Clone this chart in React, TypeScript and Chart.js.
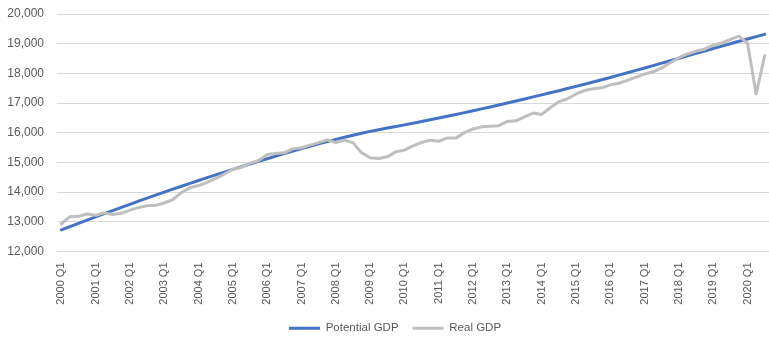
import { useEffect, useRef } from "react";
import { Chart, registerables } from "chart.js";

Chart.register(...registerables);

// Quarterly periods, 2000 Q1 through 2020 Q3
const years = [
  2000, 2001, 2002, 2003, 2004, 2005, 2006, 2007, 2008, 2009, 2010,
  2011, 2012, 2013, 2014, 2015, 2016, 2017, 2018, 2019, 2020,
];
const quarterNames = ["Q1", "Q2", "Q3", "Q4"];
const quartersInLastYear = 3;

const categories: string[] = years.flatMap((y, i) =>
  quarterNames
    .slice(0, i === years.length - 1 ? quartersInLastYear : 4)
    .map((q) => `${y} ${q}`)
);

// Potential GDP, billions of chained dollars
const potentialGdp = [
  12730, 12840, 12950, 13058,
  13166, 13273, 13379, 13485,
  13590, 13694, 13797, 13899,
  14000, 14100, 14199, 14297,
  14393, 14488, 14582, 14675,
  14767, 14858, 14948, 15037,
  15125, 15212, 15298, 15382,
  15464, 15545, 15624, 15701,
  15776, 15848, 15917, 15983,
  16046, 16104, 16158, 16210,
  16265, 16320, 16377, 16435,
  16494, 16554, 16615, 16677,
  16740, 16804, 16869, 16935,
  17002, 17070, 17139, 17209,
  17275, 17345, 17416, 17488,
  17561, 17635, 17710, 17786,
  17863, 17941, 18020, 18100,
  18181, 18262, 18344, 18426,
  18508, 18590, 18672, 18754,
  18836, 18918, 19000, 19080,
  19160, 19238, 19315,
];

// Real GDP, billions of chained dollars
const realGdp = [
  12935, 13170, 13184, 13262,
  13219, 13301, 13249, 13285,
  13395, 13478, 13539, 13559,
  13634, 13751, 13985, 14146,
  14221, 14330, 14465, 14609,
  14772, 14839, 14972, 15066,
  15267, 15302, 15326, 15457,
  15494, 15582, 15666, 15762,
  15672, 15753, 15667, 15329,
  15156, 15134, 15189, 15356,
  15415, 15558, 15672, 15751,
  15713, 15825, 15821, 16004,
  16129, 16199, 16221, 16239,
  16383, 16403, 16532, 16664,
  16617, 16842, 17047, 17143,
  17306, 17423, 17486, 17514,
  17613, 17668, 17765, 17876,
  17977, 18054, 18186, 18359,
  18531, 18654, 18752, 18814,
  18950, 19021, 19142, 19254,
  19011, 17303, 18597,
];

const yMin = 12000;
const yMax = 20000;
const yStep = 1000;

const seriesNames = ["Potential GDP", "Real GDP"];
const seriesColors = ["#4472C4", "#BFBFBF"];

const textColor = "#595959";
const gridColor = "#D9D9D9";
const family = "'Liberation Sans', Arial, sans-serif";

// Nudges the legend row a few pixels to the right after layout
const legendNudge = {
  id: "legendNudge",
  afterLayout(chart: Chart) {
    const legend = chart.legend;
    if (!legend) return;
    legend.left += 7;
    legend.right += 7;
  },
};

export default function App() {
  const canvasRef = useRef<HTMLCanvasElement | null>(null);

  useEffect(() => {
    const canvas = canvasRef.current;
    if (!canvas) return;

    const chart = new Chart(canvas, {
      type: "line",
      data: {
        labels: categories,
        datasets: [
          {
            label: seriesNames[0],
            data: potentialGdp,
            borderColor: seriesColors[0],
            backgroundColor: seriesColors[0],
            borderWidth: 3,
            pointRadius: 0,
            tension: 0,
            borderCapStyle: "round",
            borderJoinStyle: "round",
            order: 1,
          },
          {
            label: seriesNames[1],
            data: realGdp,
            borderColor: seriesColors[1],
            backgroundColor: seriesColors[1],
            borderWidth: 3,
            pointRadius: 0,
            tension: 0,
            borderCapStyle: "round",
            borderJoinStyle: "round",
            order: 0,
          },
        ],
      },
      plugins: [legendNudge],
      options: {
        animation: false,
        responsive: false,
        devicePixelRatio: 1,
        layout: { padding: { left: 7, top: 14, right: 0, bottom: -7 } },
        plugins: {
          tooltip: { enabled: false },
          legend: {
            position: "bottom",
            labels: {
              boxWidth: 31,
              boxHeight: 3,
              padding: 14,
              color: textColor,
              font: { family, size: 11.5 },
              sort: (a, b) => (a.datasetIndex ?? 0) - (b.datasetIndex ?? 0),
              generateLabels: (c) =>
                Chart.defaults.plugins.legend.labels
                  .generateLabels(c)
                  .map((item) => ({
                    ...item,
                    lineWidth: 0,
                    fillStyle: item.strokeStyle,
                  })),
            },
          },
        },
        scales: {
          x: {
            type: "category",
            offset: true,
            grid: { display: false, drawTicks: false },
            border: { display: false },
            ticks: {
              autoSkip: false,
              maxRotation: 90,
              minRotation: 90,
              padding: 11,
              color: textColor,
              font: { family, size: 11 },
              callback: (_v, i) => (i % 4 === 0 ? categories[i] : ""),
            },
            afterFit: (scale) => {
              scale.paddingLeft = 0;
              scale.paddingRight = 0;
              scale.height = 57;
            },
          },
          y: {
            min: yMin,
            max: yMax,
            grid: { color: gridColor, drawTicks: false, tickLength: 0, lineWidth: 1 },
            border: { display: false },
            ticks: {
              stepSize: yStep,
              padding: 13,
              color: textColor,
              font: { family, size: 12 },
              callback: (v) => Number(v).toLocaleString("en-US"),
            },
            afterFit: (scale) => {
              scale.paddingTop = 0;
              scale.paddingBottom = 0;
              scale.width = 50;
            },
          },
        },
      },
    });

    return () => chart.destroy();
  }, []);

  return (
    <div
      style={{
        position: "absolute",
        left: 0,
        top: 0,
        width: 769,
        height: 337,
        background: "#ffffff",
      }}
    >
      <canvas ref={canvasRef} width={769} height={337} />
    </div>
  );
}
